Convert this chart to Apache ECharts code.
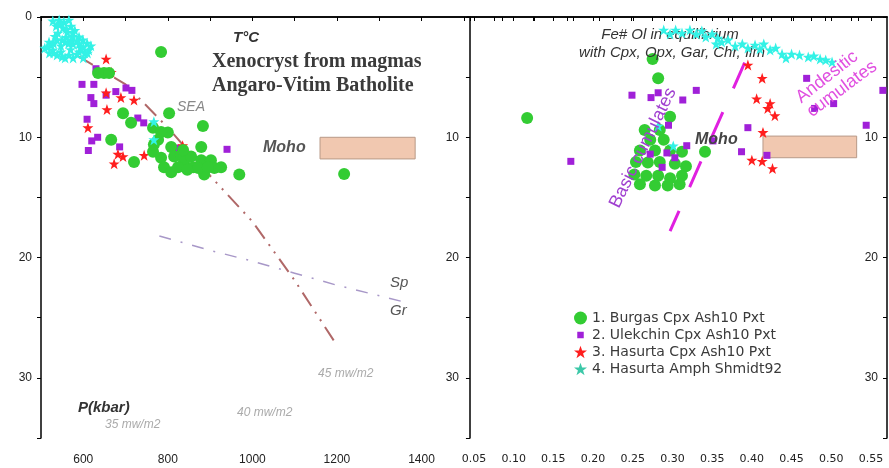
<!DOCTYPE html>
<html>
<head>
<meta charset="utf-8">
<script src="https://cdn.jsdelivr.net/npm/echarts@6/dist/echarts.min.js"></script>
<style>
  html, body { margin: 0; padding: 0; background: #fff; }
  #chart { width: 889px; height: 468px; }
</style>
</head>
<body>
<div id="chart"></div>
<script>
// ---- data: [T or Fe#, P kbar] ----
const burgasLeft = [[784,2.9],[635,4.65],[649,4.65],[661,4.65],[803,8.0],[694,8.0],[713,8.8],[883,9.06],
  [666,10.2],[720,12.05],[969,13.1],[1217,13.05],[765,9.2],[777,10.2],[800,9.6],[808,10.8],[765,11.2],
  [784,11.7],[791,12.5],[815,11.6],[831,11.5],[808,12.9],[838,12.1],[855,11.6],[860,12.5],[879,10.8],
  [879,11.9],[886,13.1],[902,11.9],[910,12.55],[926,12.5],[836,11.05],[824,12.5],[767,10.6],[872,12.55],
  [895,12.5],[846,12.7],[784,9.56]]
const ulekchinLeft = [[597,5.6],[625,5.6],[618,6.7],[625,7.2],[654,6.5],[677,6.2],[701,5.9],[715,6.1],
  [609,8.5],[634,10.0],[620,10.3],[612,11.1],[686,10.8],[729,8.4],[743,8.8],[820,10.9],[940,11.0],[630,4.3]]
const hasurtaCpxLeft = [[654,3.5],[666,4.6],[654,6.3],[689,6.7],[720,6.9],[656,7.7],[611,9.2],[682,11.4],
  [694,11.6],[673,12.2],[744,11.5],[835,10.7]]
const hasurtaAmphLeft = [[528,0.33],[543,0.25],[554,0.42],[566,0.25],[536,0.75],[552,0.9],[571,0.75],
  [580,1.1],[562,1.25],[540,1.33],[575,1.58],[590,1.66],[599,1.9],[609,2.16],[618,2.4],[613,2.74],
  [595,2.58],[576,2.24],[557,2.08],[538,1.91],[519,2.08],[509,2.58],[528,2.74],[547,2.9],[566,3.16],
  [585,3.08],[604,3.0],[557,3.4],[576,3.4],[590,2.24],[547,2.4],[571,1.91],[524,2.33],[538,3.16],
  [533,1.6],[560,1.7],[585,2.0],[600,2.5],[515,2.5],[530,3.0],[550,3.3],[570,2.7],[590,2.9],[610,3.0],
  [545,0.6],[560,1.0],[575,1.3],[550,1.9],[530,2.2],[565,2.2],[520,3.0],[600,3.4],
  [767,8.7],[767,10.2]]

const burgasRight = [[0.117,8.4],[0.275,3.5],[0.282,5.1],[0.341,11.2],[0.297,8.3],[0.284,9.39],
  [0.272,10.2],[0.289,10.2],[0.259,11.1],[0.278,11.1],[0.297,11.1],[0.312,11.2],[0.254,12.05],
  [0.269,12.1],[0.284,12.05],[0.303,12.2],[0.317,12.4],[0.252,13.1],[0.267,13.2],[0.282,13.2],
  [0.297,13.4],[0.312,13.2],[0.259,13.9],[0.278,14.0],[0.294,14.0],[0.309,13.9],[0.265,9.39]]
const ulekchinRight = [[0.172,12.0],[0.249,6.5],[0.273,6.7],[0.282,6.3],[0.313,6.9],[0.330,6.1],
  [0.295,9.0],[0.318,10.7],[0.395,9.2],[0.387,11.2],[0.419,11.5],[0.469,5.1],[0.503,7.2],[0.479,7.6],
  [0.544,9.0],[0.565,6.1],[0.272,11.4],[0.293,11.3],[0.287,12.5],[0.303,11.7],[0.351,10.3]]
const hasurtaCpxRight = [[0.395,4.0],[0.413,5.1],[0.406,6.8],[0.423,7.2],[0.429,8.2],[0.414,9.6],
  [0.400,11.9],[0.413,12.0],[0.426,12.6],[0.420,7.6]]
const hasurtaAmphRight = [[0.289,1.08],[0.297,1.41],[0.304,1.08],[0.312,1.33],[0.322,1.08],[0.330,1.41],
  [0.337,1.16],[0.342,1.66],[0.350,1.41],[0.357,1.75],[0.362,2.08],[0.370,1.91],[0.355,2.24],[0.379,2.41],
  [0.388,2.24],[0.395,2.58],[0.404,2.33],[0.410,2.66],[0.415,2.24],[0.423,2.74],[0.430,2.58],[0.438,3.08],
  [0.443,3.41],[0.450,3.08],[0.460,3.16],[0.471,3.33],[0.478,3.24],[0.486,3.49],[0.493,3.57],[0.501,3.74],
  [0.282,9.06],[0.301,10.72]]

// curves and boxes
const seaGeotherm = [[590,3.3],[700,5.6],[800,9.2],[900,13.2],[1000,17.0],[1100,21.9],[1200,27.3]]
const spGrBoundary = [[780,18.2],[900,19.4],[1000,20.3],[1100,21.3],[1200,22.3],[1360,23.7]]
const cumulateDivide = [[0.391,3.8],[0.297,17.8]]
const mohoLeft = [[1160,10],[1385,11.8]]
const mohoRight = [[0.414,9.9],[0.532,11.7]]

// axis ticks / labels
const tTicks = [500,600,700,800,900,1000,1100,1200,1300,1400,1500]
const tLabels = [600,800,1000,1200,1400]
const feTicks = [0.05,0.075,0.10,0.125,0.15,0.175,0.20,0.225,0.25,0.275,0.30,0.325,0.35,0.375,0.40,0.425,0.45,0.475,0.50,0.525,0.55]
const feLabels = [0.05,0.10,0.15,0.20,0.25,0.30,0.35,0.40,0.45,0.50,0.55]
const topTicksRight = [0,1,2,3,4,5,6,7,8,9,10,11,12]

const names = ['1. Burgas Cpx Ash10 Pxt', '2. Ulekchin Cpx Ash10 Pxt', '3. Hasurta Cpx Ash10 Pxt', '4. Hasurta Amph Shmidt92']

const star = 'path://M12,0L14.9,8.3L23.4,8.3L16.5,13.5L19.1,22L12,16.9L4.9,22L7.5,13.5L0.6,8.3L9.1,8.3Z'
const GREEN = '#33cc33', PURPLE = '#a020d8', RED = '#ff1e1e', CYAN = '#33f2e6'

const chart = echarts.init(document.getElementById('chart'))

const axisLine = { lineStyle: { color: '#000', width: 1.5 } }
const lbl = { color: '#222', fontSize: 12, fontFamily: 'Liberation Sans' }

function yAx (grid, pos, inside, margin, showZero) {
    return {
        type: 'value', gridIndex: grid, position: pos, min: 0, max: 35, interval: 5, inverse: true,
        axisLine: axisLine,
        axisTick: { inside: inside, length: 4, lineStyle: { color: '#000' } },
        axisLabel: Object.assign({}, lbl, {
            inside: inside, margin: margin,
            formatter: v => (v % 10 === 0 && (v > 0 || showZero) ? String(v) : '')
        }),
        splitLine: { show: false }
    }
}

function pts (name, data, x, y, symbol, size, color, z) {
    return {
        name: name, type: 'scatter', xAxisIndex: x, yAxisIndex: y, data: data,
        symbol: symbol, symbolSize: size, z: z,
        itemStyle: { color: color, opacity: 1 }
    }
}

function txt (text, x, y, font, fill, align, z) {
    return {
        type: 'text', x: x, y: y, z: z || 5,
        style: { text: text, font: font, fill: fill, align: align || 'left', verticalAlign: 'middle' }
    }
}

function rtxt (text, x, y, deg, fill) {
    return {
        type: 'text', x: x, y: y, rotation: deg * Math.PI / 180, z: 10,
        style: { text: text, font: '18px Liberation Sans', fill: fill, align: 'center', verticalAlign: 'middle' }
    }
}

chart.setOption({
    animation: false,
    grid: [
        { left: 41, top: 17, width: 427, height: 421 },
        { left: 468, top: 17, width: 419, height: 421 }
    ],
    xAxis: [
        { type: 'value', gridIndex: 0, min: 500, max: 1510, axisLine: axisLine,
          axisTick: { customValues: tTicks, length: 4, lineStyle: { color: '#000' } },
          axisLabel: Object.assign({}, lbl, { customValues: tLabels, margin: 16, formatter: v => String(v) }),
          splitLine: { show: false } },
        { type: 'value', gridIndex: 0, position: 'top', min: 500, max: 1510, axisLine: axisLine,
          axisTick: { customValues: tTicks, inside: true, length: 4, lineStyle: { color: '#000' } },
          axisLabel: { show: false }, splitLine: { show: false } },
        { type: 'value', gridIndex: 1, min: 0.0425, max: 0.5702, axisLine: axisLine,
          axisTick: { customValues: feTicks, length: 4, lineStyle: { color: '#000' } },
          axisLabel: Object.assign({}, lbl, { customValues: feLabels, margin: 16, fontSize: 11, fontFamily: 'DejaVu Sans',
              formatter: v => v.toFixed(2) }),
          splitLine: { show: false } },
        { type: 'value', gridIndex: 1, position: 'top', min: -0.06, max: 12.9, axisLine: axisLine,
          axisTick: { customValues: topTicksRight, inside: true, length: 4, lineStyle: { color: '#000' } },
          axisLabel: { show: false }, splitLine: { show: false } }
    ],
    yAxis: [
        yAx(0, 'left', false, 9, true),
        yAx(1, 'left', false, 9, false),
        yAx(1, 'right', true, 9, false)
    ],
    legend: {
        orient: 'vertical', left: 569, top: 306, itemWidth: 13, itemHeight: 13, itemGap: 3,
        textStyle: { color: '#3a3a3a', fontSize: 14, fontFamily: 'DejaVu Sans' },
        data: [
            { name: names[0] },
            { name: names[1], icon: 'path://M0,0M12,12M3,3h6v6h-6Z' },
            { name: names[2] },
            { name: names[3], itemStyle: { color: '#3cc8a8' } }
        ]
    },
    graphic: [
        txt('T°C', 233, 38, 'italic bold 15px Liberation Sans', '#333'),
        txt('Xenocryst from magmas', 212, 62, 'bold 20px Liberation Serif', '#3a3a3a'),
        txt('Angaro-Vitim Batholite', 212, 86, 'bold 20px Liberation Serif', '#3a3a3a'),
        txt('SEA', 177, 107, 'italic 14px Liberation Sans', '#888'),
        txt('Moho', 263, 148, 'italic bold 16px Liberation Sans', '#555'),
        txt('Sp', 390, 283, 'italic 15px Liberation Sans', '#555'),
        txt('Gr', 390, 311, 'italic 15px Liberation Sans', '#555'),
        txt('45 mw/m2', 318, 374, 'italic 12px Liberation Sans', '#aaa'),
        txt('40 mw/m2', 237, 413, 'italic 12px Liberation Sans', '#aaa'),
        txt('35 mw/m2', 105, 425, 'italic 12px Liberation Sans', '#aaa'),
        txt('P(kbar)', 78, 408, 'italic bold 15px Liberation Sans', '#333'),
        txt('Fe# Ol in equilibrium', 670, 35, 'italic 15px Liberation Sans', '#333', 'center', 0),
        txt('with Cpx, Opx, Gar, Chr, Ilm', 672, 53, 'italic 15px Liberation Sans', '#333', 'center', 0),
        txt('Moho', 695, 140, 'italic bold 16px Liberation Sans', '#444'),
        rtxt('Basic cumulates', 643, 148, 64, '#a040d0'),
        rtxt('Andesitic', 827, 77, 38, '#e050e0'),
        rtxt('cumulates', 842, 89, 36.6, '#e050e0')
    ],
    series: [
        // left panel
        { type: 'line', xAxisIndex: 0, yAxisIndex: 0, data: seaGeotherm, symbol: 'none', z: 1,
          lineStyle: { color: '#b06868', width: 2, type: [16, 7, 2, 7, 2, 7] } },
        { type: 'line', xAxisIndex: 0, yAxisIndex: 0, data: spGrBoundary, symbol: 'none', z: 1,
          lineStyle: { color: '#a898c8', width: 1.5, type: [12, 10, 2, 10] } },
        { type: 'scatter', xAxisIndex: 0, yAxisIndex: 0, data: [], silent: true,
          markArea: { silent: true, itemStyle: { color: '#f1c8b0', borderColor: '#b89a88', borderWidth: 1 },
                      data: [[{ coord: mohoLeft[0] }, { coord: mohoLeft[1] }]] } },
        pts(names[1], ulekchinLeft, 0, 0, 'rect', 7, PURPLE, 3),
        pts(names[2], hasurtaCpxLeft, 0, 0, star, 11, RED, 3),
        pts(names[0], burgasLeft, 0, 0, 'circle', 12, GREEN, 4),
        pts(names[3], hasurtaAmphLeft, 0, 0, star, 11, CYAN, 5),
        // right panel
        { type: 'line', xAxisIndex: 2, yAxisIndex: 1, data: cumulateDivide, symbol: 'none', z: 1,
          lineStyle: { color: '#e020e0', width: 3, type: [28, 26] } },
        { type: 'scatter', xAxisIndex: 2, yAxisIndex: 1, data: [], silent: true,
          markArea: { silent: true, itemStyle: { color: '#f1c8b0', borderColor: '#b89a88', borderWidth: 1 },
                      data: [[{ coord: mohoRight[0] }, { coord: mohoRight[1] }]] } },
        pts(names[0], burgasRight, 2, 1, 'circle', 12, GREEN, 3),
        pts(names[1], ulekchinRight, 2, 1, 'rect', 7, PURPLE, 4),
        pts(names[2], hasurtaCpxRight, 2, 1, star, 11, RED, 4),
        pts(names[3], hasurtaAmphRight, 2, 1, star, 11, CYAN, 5)
    ]
})
</script>
</body>
</html>
